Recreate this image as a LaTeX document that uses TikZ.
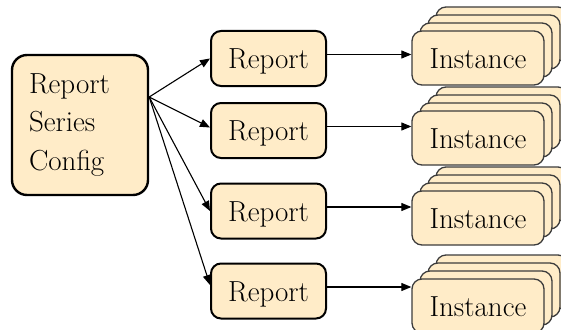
\documentclass[tikz,border=0pt]{standalone}
\usetikzlibrary{arrows.meta}

\definecolor{boxfill}{RGB}{255,236,200}
\definecolor{instline}{RGB}{60,60,60}

\begin{document}
\begin{tikzpicture}[x=1pt,y=-1pt,
  font=\fontsize{29}{38.5}\selectfont,
  cfgbox/.style={draw,fill=boxfill,line width=2.4pt,rounded corners=15pt,
    minimum width=136pt,minimum height=140pt,inner xsep=17pt,
    text width=102pt,align=left},
  reportbox/.style={draw,fill=boxfill,line width=2pt,rounded corners=10pt,
    minimum width=115pt,minimum height=55pt,inner sep=0pt,
    text height=20pt,text depth=0pt},
  instbox/.style={draw=instline,fill=boxfill,line width=1.3pt,rounded corners=10pt,
    minimum width=132pt,minimum height=54pt,inner sep=0pt,
    text height=20pt,text depth=0pt},
  arr/.style={line width=1.1pt,-{Triangle[length=10pt,width=8pt]}}]
\useasboundingbox (0,0) rectangle (561,329);

\node [cfgbox] (cfg) at (80,125) {Report\\Series\\Config};
\coordinate (fan) at ([yshift=28pt]cfg.east);

\node [reportbox] (rep1) at (268.5,58.5) {Report};
\node [reportbox] (rep2) at (268.5,130.5) {Report};
\node [reportbox] (rep3) at (268.5,211) {Report};
\node [reportbox] (rep4) at (268.5,291) {Report};

% stacks of instances, back copies first
\foreach \dx in {24,16,8} \node [instbox] at (478+\dx,58-\dx) {};
\node [instbox] (inst1) at (478,58) {Instance};
\foreach \dx in {24,16,8} \node [instbox] at (478+\dx,138-\dx) {};
\node [instbox] (inst2) at (478,138) {Instance};
\foreach \dx in {24,16,8} \node [instbox] at (478+\dx,218-\dx) {};
\node [instbox] (inst3) at (478,218) {Instance};
\foreach \dx in {24,16,8} \node [instbox] at (478+\dx,306-\dx) {};
\node [instbox] (inst4) at (478,306) {Instance};

\draw [arr] (fan) -- (rep1.west);
\draw [arr] (fan) -- ([yshift=3pt]rep2.west);
\draw [arr] (fan) -- (rep3.west);
\draw [arr] (fan) -- ([yshift=6pt]rep4.west);

\draw [arr] ([yshift=4pt]rep1.east) -- ([yshift=4pt]rep1.east -| inst1.west);
\draw [arr] ([yshift=4pt]rep2.east) -- ([yshift=4pt]rep2.east -| inst2.west);
\draw [arr] ([yshift=4pt]rep3.east) -- ([yshift=4pt]rep3.east -| inst3.west);
\draw [arr] ([yshift=4pt]rep4.east) -- ([yshift=4pt]rep4.east -| inst4.west);
\end{tikzpicture}
\end{document}
